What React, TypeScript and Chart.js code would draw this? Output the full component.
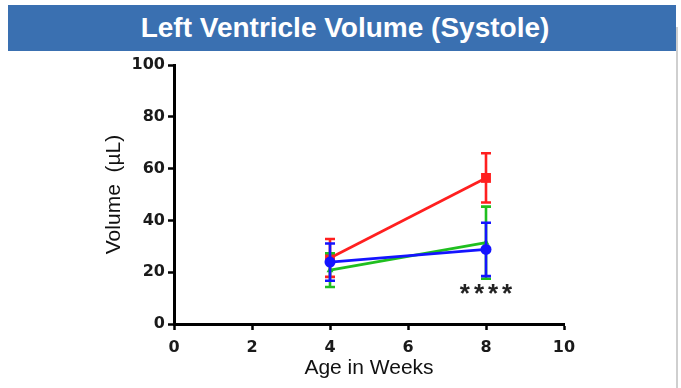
import React, { useEffect, useRef } from "react";
import { Chart, registerables } from "chart.js";

Chart.register(...registerables);

const TITLE = "Left Ventricle Volume (Systole)";
const X_TITLE = "Age in Weeks";
const Y_TITLE = "Volume  (\u00B5L)";
const SIGNIFICANCE = "****";
const SIGNIFICANCE_AT = { x: 8, y: 13 };

const weeks = [4, 8];
const redMean = [25.5, 56.4];
const redErr = [7.3, 9.5];
const greenMean = [20.8, 31.4];
const greenErr = [6.5, 13.9];
const blueMean = [23.9, 28.8];
const blueErr = [7.2, 10.3];

const xTicks = [0, 2, 4, 6, 8, 10];
const yTicks = [0, 20, 40, 60, 80, 100];

const RED = "#ff1f1f";
const GREEN = "#1fbf1f";
const BLUE = "#1414ff";

const errorBarPlugin = {
  id: "errorBars",
  beforeDatasetDraw(chart: any, args: any) {
    const ds = chart.data.datasets[args.index];
    const errs: number[] = ds.errors;
    if (!errs) return;
    const meta = chart.getDatasetMeta(args.index);
    const y = chart.scales.y;
    const ctx = chart.ctx;
    ctx.save();
    ctx.strokeStyle = ds.borderColor;
    ctx.lineWidth = 2.6;
    meta.data.forEach((pt: any, i: number) => {
      const v = ds.data[i].y;
      const top = y.getPixelForValue(v + errs[i]);
      const bot = y.getPixelForValue(v - errs[i]);
      const x = pt.x;
      ctx.beginPath();
      ctx.moveTo(x, top);
      ctx.lineTo(x, bot);
      ctx.moveTo(x - 5, top);
      ctx.lineTo(x + 5, top);
      ctx.moveTo(x - 5, bot);
      ctx.lineTo(x + 5, bot);
      ctx.stroke();
    });
    ctx.restore();
  },
};

const annotationPlugin = {
  id: "significance",
  afterDatasetsDraw(chart: any) {
    const ctx = chart.ctx;
    const px = chart.scales.x.getPixelForValue(SIGNIFICANCE_AT.x);
    const py = chart.scales.y.getPixelForValue(SIGNIFICANCE_AT.y);
    ctx.save();
    ctx.font = "bold 26px 'Liberation Sans', Arial, sans-serif";
    (ctx as any).letterSpacing = "4px";
    ctx.fillStyle = "#222";
    ctx.textAlign = "center";
    ctx.textBaseline = "middle";
    ctx.fillText(SIGNIFICANCE, px + 2, py + 4);
    ctx.restore();
  },
};

export default function App() {
  const canvasRef = useRef<HTMLCanvasElement | null>(null);

  useEffect(() => {
    if (!canvasRef.current) return;
    const mk = (label: string, mean: number[], err: number[], color: string, style: string, radius: number) => ({
      label,
      data: weeks.map((w, i) => ({ x: w, y: mean[i] })),
      errors: err,
      borderColor: color,
      backgroundColor: color,
      pointBackgroundColor: color,
      pointBorderColor: color,
      pointStyle: style,
      pointRadius: radius,
      pointBorderWidth: 0,
      borderWidth: 2.7,
      fill: false,
      tension: 0,
    });
    const chart = new Chart(canvasRef.current, {
      type: "line",
      data: {
        datasets: [
          mk("Blue", blueMean, blueErr, BLUE, "circle", 5.5),
          mk("Green", greenMean, greenErr, GREEN, "triangle", 4),
          mk("Red", redMean, redErr, RED, "rect", 7),
        ] as any,
      },
      options: {
        animation: false,
        responsive: false,
        layout: { padding: { top: 65, right: 117, left: 0, bottom: 0 } },
        plugins: { legend: { display: false }, tooltip: { enabled: false } },
        scales: {
          x: {
            type: "linear",
            min: 0,
            max: 10,
            afterFit: (s: any) => {
              s.height = 64;
            },
            afterBuildTicks: (s: any) => {
              s.ticks = xTicks.map((v) => ({ value: v }));
            },
            border: { display: true, color: "#000", width: 3 },
            grid: { drawOnChartArea: false, drawTicks: true, tickLength: 6, tickColor: "#000", tickWidth: 2.5 },
            ticks: {
              color: "#1a1a1a",
              padding: 8,
              font: { family: "'DejaVu Sans'", weight: "bold", size: 16 },
            },
            title: {
              display: true,
              text: X_TITLE,
              color: "#111",
              font: { family: "'Liberation Sans', Arial", size: 21 },
              padding: { top: 0, bottom: 7 },
            },
          },
          y: {
            type: "linear",
            min: 0,
            max: 100,
            afterFit: (s: any) => {
              s.width = 174;
            },
            afterBuildTicks: (s: any) => {
              s.ticks = yTicks.map((v) => ({ value: v }));
            },
            border: { display: true, color: "#000", width: 3 },
            grid: { drawOnChartArea: false, drawTicks: true, tickLength: 6, tickColor: "#000", tickWidth: 2.5 },
            ticks: {
              color: "#1a1a1a",
              padding: 3,
              font: { family: "'DejaVu Sans'", weight: "bold", size: 16 },
            },
            title: {
              display: true,
              text: Y_TITLE,
              color: "#111",
              font: { family: "'Liberation Sans', Arial", size: 21 },
              padding: { top: 102, bottom: 0 },
            },
          },
        },
      } as any,
      plugins: [errorBarPlugin, annotationPlugin],
    });
    return () => chart.destroy();
  }, []);

  return (
    <div style={{ position: "fixed", left: 0, top: 0, width: 681, height: 388, background: "#fff", overflow: "hidden" }}>
      <canvas ref={canvasRef} width={681} height={388} style={{ position: "absolute", left: 0, top: 0 }} />
      <div
        style={{
          position: "absolute",
          left: 8,
          top: 5,
          width: 668,
          height: 46,
          background: "#3a70b1",
          color: "#fff",
          font: "bold 28px 'Liberation Sans', Arial, sans-serif",
          display: "flex",
          alignItems: "center",
          justifyContent: "center",
          paddingLeft: 6,
          boxSizing: "border-box",
        }}
      >
        {TITLE}
      </div>
      <div style={{ position: "absolute", left: 676, top: 27, width: 2, height: 361, background: "#cfcfcf" }} />
    </div>
  );
}
